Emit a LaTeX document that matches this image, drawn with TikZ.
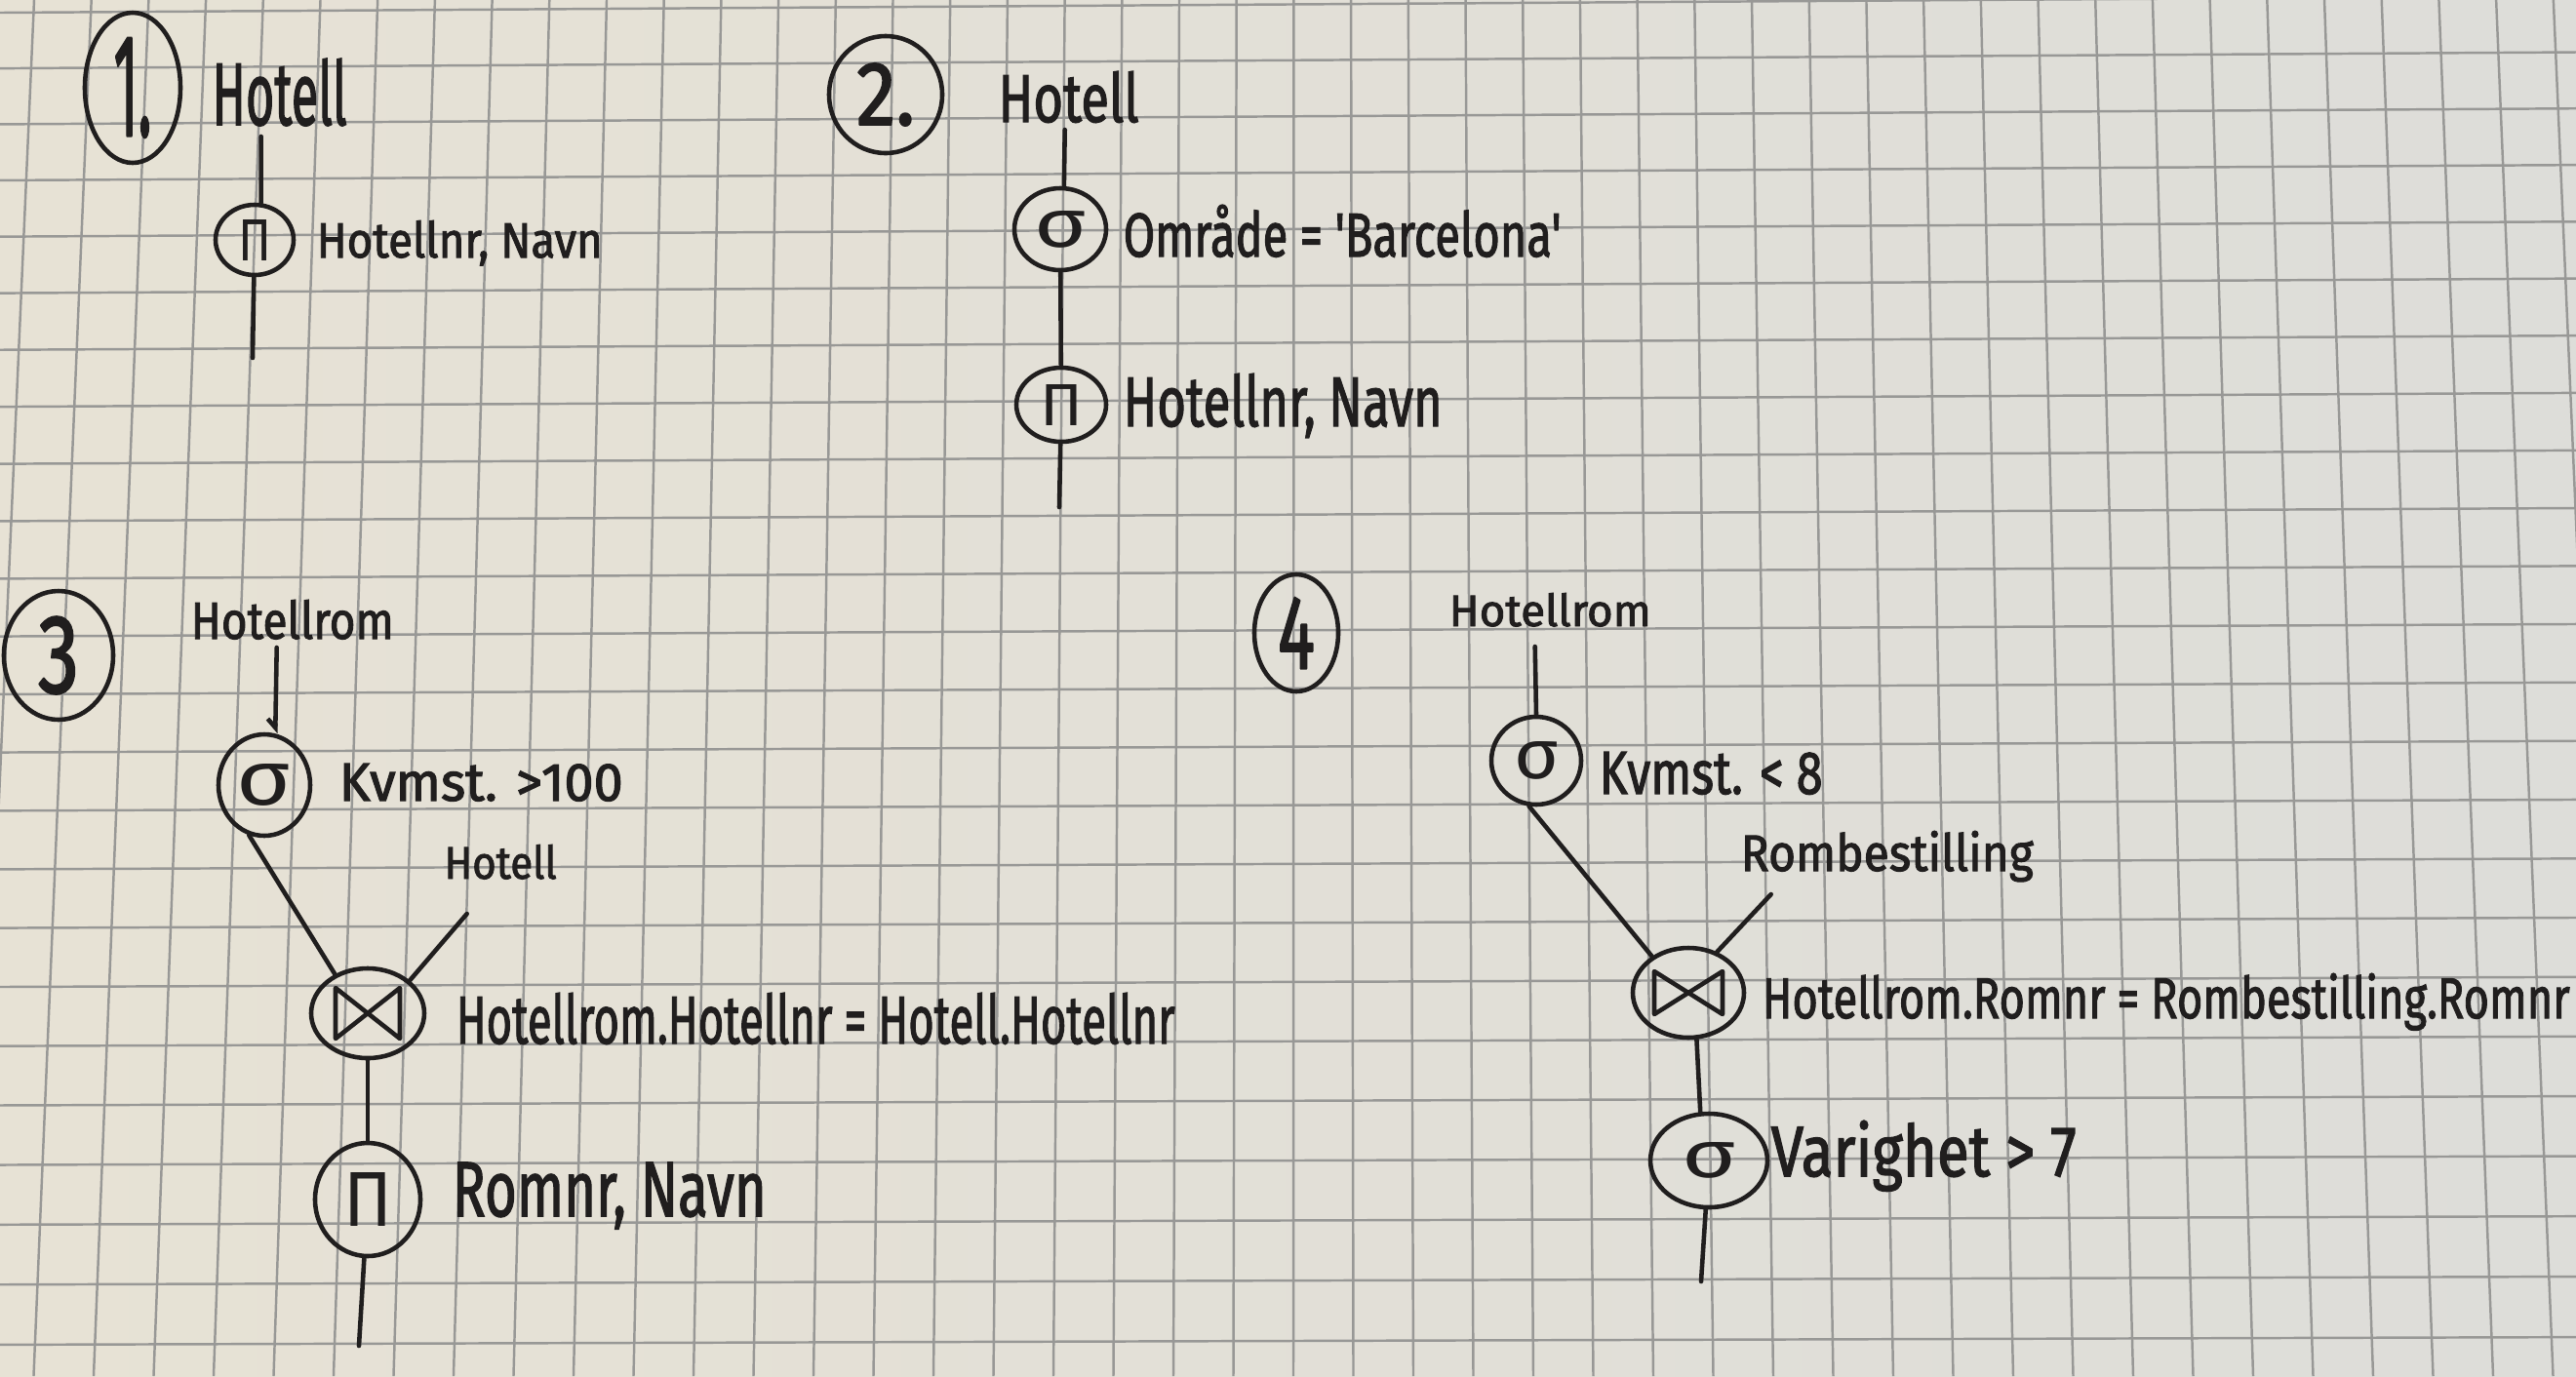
\documentclass[tikz,border=0pt]{standalone}
\usepackage{fontspec}
\setmainfont{Fira Sans}
\newfontfamily\inkfont{Fira Sans}[FakeBold=2]
\usepackage{graphicx}
\usetikzlibrary{shapes.geometric,arrows.meta,calc}

\definecolor{paperL}{RGB}{231,226,213}
\definecolor{paperR}{RGB}{221,221,217}
\definecolor{gridc}{RGB}{152,152,150}
\definecolor{ink}{RGB}{32,30,30}

\tikzset{
  pen/.style={draw=ink, line width=1.3pt, line cap=round, line join=round},
  gridline/.style={draw=gridc, line width=0.7pt},
  lbl/.style={anchor=base west, inner sep=0pt, text=ink, font=\inkfont},
  numcirc/.style={ellipse, pen, inner sep=0pt, text=ink, font=\inkfont},
  op/.style={ellipse, pen, inner sep=0pt, text=ink, font=\normalfont},
  bowtie/.style 2 args={path picture={
    \draw[pen] ([shift={(-#1,#2)}]path picture bounding box.center)
      -- ++({2*#1},{-2*#2}) -- ++(0,{2*#2}) -- ++({-2*#1},{-2*#2}) -- cycle;}},
}
% handwritten label squeezed to a given width and height (cm)
\newcommand\hw[3]{\resizebox{#1cm}{#2cm}{#3}}

\begin{document}
\begin{tikzpicture}
\useasboundingbox (0,0) rectangle (26.41,-14.11);
\clip (0,0) rectangle (26.41,-14.11);

% squared paper
\shade[left color=paperL, right color=paperR] (0,0) rectangle (26.41,-14.11);
\foreach \i in {-2,...,44}
  \draw[gridline] ({0.35+0.587*\i},0) -- ({13.26+0.615*(\i-22)},-14.11);
\foreach \j in {-1,...,24}
  \draw[gridline] (0,{-(0.13+0.57*\j+0.00104*\j*\j)})
    -- (26.41,{-(0.13+0.57*\j+0.00104*\j*\j)+(0.17-0.004*\j)});

% ---- 1: projection of Hotell
\node[numcirc, minimum width=0.98cm, minimum height=1.54cm] (n1) at (1.36,-0.90) {\hw{0.39}{1.0}{1.}};
\node[lbl] (hot1) at (2.17,-1.28) {\hw{1.38}{0.68}{Hotell}};
\node[op, minimum width=0.80cm, minimum height=0.72cm] (pi1) at (2.61,-2.46) {\hw{0.34}{0.42}{Π}};
\node[lbl] (att1) at (3.24,-2.64) {\hw{2.93}{0.38}{Hotellnr, Navn}};
\coordinate (end1) at (2.59,-3.67);
\draw[pen] ([shift={(-0.19,-0.12)}]hot1.base) -- (pi1.80);
\draw[pen] (pi1) -- (end1);

% ---- 2: selection, then projection
\node[numcirc, minimum width=1.16cm, minimum height=1.20cm] (n2) at (9.08,-0.97) {\hw{0.60}{0.63}{2.}};
\node[lbl] (hot2) at (10.23,-1.25) {\hw{1.44}{0.52}{Hotell}};
\node[op, minimum width=0.94cm, minimum height=0.84cm] (sg2) at (10.87,-2.35) {\hw{0.54}{0.37}{σ}};
\node[lbl] (cond2) at (11.51,-2.63) {\hw{4.49}{0.53}{Område = 'Barcelona'}};
\node[op, minimum width=0.92cm, minimum height=0.76cm] (pi2) at (10.88,-4.15) {\hw{0.44}{0.42}{Π}};
\node[lbl] (att2) at (11.51,-4.37) {\hw{3.27}{0.54}{Hotellnr, Navn}};
\coordinate (end2) at (10.86,-5.20);
\draw[pen] ([shift={(-0.04,-0.08)}]hot2.base) -- (sg2.85);
\draw[pen] (sg2) -- (pi2);
\draw[pen] (pi2) -- (end2);

% ---- 3: selection, join with Hotell, projection
\node[numcirc, minimum width=1.12cm, minimum height=1.32cm] (n3) at (0.60,-6.72) {\hw{0.42}{0.78}{3}};
\node[lbl] (hr3) at (1.95,-6.55) {\hw{2.08}{0.40}{Hotellrom}};
\node[op, minimum width=0.94cm, minimum height=1.04cm] (sg3) at (2.71,-8.05) {\hw{0.56}{0.42}{σ}};
\node[lbl] (cond3) at (3.47,-8.21) {\hw{2.91}{0.38}{Kvmst. >100}};
\node[lbl] (hot3) at (4.55,-9.01) {\hw{1.15}{0.35}{Hotell}};
\node[op, minimum width=1.16cm, minimum height=0.92cm, bowtie={0.33}{0.26}] (jn3) at (3.77,-10.39) {};
\node[lbl] (jc3) at (4.67,-10.70) {\hw{7.37}{0.52}{Hotellrom.Hotellnr = Hotell.Hotellnr}};
\node[op, minimum width=1.08cm, minimum height=1.16cm] (pi3) at (3.77,-12.30) {\hw{0.50}{0.55}{Π}};
\node[lbl] (att3) at (4.63,-12.47) {\hw{3.22}{0.55}{Romnr, Navn}};
\coordinate (end3) at (3.68,-13.80);
\draw[pen, -{Straight Barb[harpoon, swap, length=0.9mm, width=1.6mm]}]
  ([shift={(-0.16,-0.09)}]hr3.base) -- (sg3.78);
\draw[pen] (sg3.-107) -- (jn3.130);
\draw[pen] ([shift={(-0.345,-0.36)}]hot3.base) -- (jn3.38);
\draw[pen] (jn3) -- (pi3);
\draw[pen] (pi3) -- (end3);

% ---- 4: selection, join with Rombestilling, selection
\node[numcirc, minimum width=0.86cm, minimum height=1.20cm] (n4) at (13.29,-6.49) {\hw{0.38}{0.73}{4}};
\node[lbl] (hr4) at (14.85,-6.42) {\hw{2.07}{0.34}{Hotellrom}};
\node[op, minimum width=0.92cm, minimum height=0.90cm] (sg4) at (15.75,-7.80) {\hw{0.46}{0.38}{σ}};
\node[lbl] (cond4) at (16.39,-8.14) {\hw{2.29}{0.43}{Kvmst. < 8}};
\node[lbl] (rb4) at (17.84,-8.93) {\hw{3.00}{0.41}{Rombestilling}};
\node[op, minimum width=1.14cm, minimum height=0.92cm, bowtie={0.35}{0.22}] (jn4) at (17.31,-10.18) {};
\node[lbl] (jc4) at (18.06,-10.44) {\hw{8.28}{0.46}{Hotellrom.Romnr = Rombestilling.Romnr}};
\node[op, minimum width=1.20cm, minimum height=0.96cm] (sg4b) at (17.52,-11.90) {\hw{0.56}{0.36}{σ}};
\node[lbl] (cond4b) at (18.15,-12.06) {\hw{3.13}{0.57}{Varighet > 7}};
\coordinate (end4) at (17.44,-13.14);
\draw[pen] ([shift={(-0.155,-0.21)}]hr4.base) -- (sg4.90);
\draw[pen] (sg4.-99) -- (jn4.135);
\draw[pen] ([shift={(-1.19,-0.24)}]rb4.base) -- (jn4.55);
\draw[pen] (jn4.-80) -- (sg4b.100);
\draw[pen] (sg4b) -- (end4);
\end{tikzpicture}
\end{document}
